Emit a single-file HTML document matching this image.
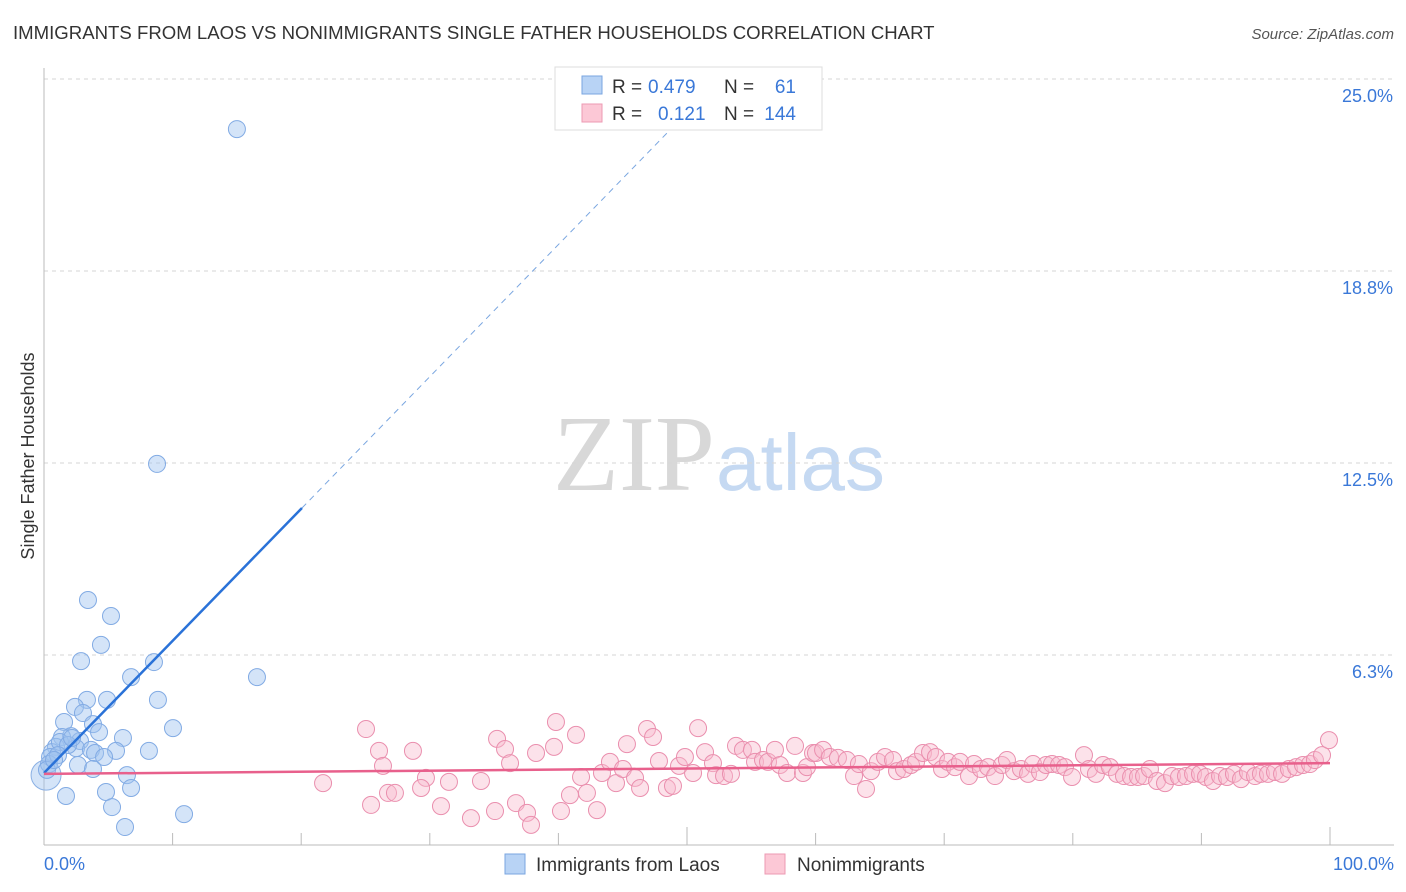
<!DOCTYPE html>
<html><head><meta charset="utf-8"><style>
body{margin:0;background:#fff;font-family:"Liberation Sans",sans-serif}
#wrap{position:relative;width:1406px;height:892px;overflow:hidden}
</style></head><body>
<div id="wrap">
<svg id="svg" width="1406" height="892" xmlns="http://www.w3.org/2000/svg">
<text x="13" y="39" font-size="18.6" fill="#333">IMMIGRANTS FROM LAOS VS NONIMMIGRANTS SINGLE FATHER HOUSEHOLDS CORRELATION CHART</text>
<text x="1394" y="39" font-size="15" fill="#555" font-style="italic" text-anchor="end">Source: ZipAtlas.com</text>
<text x="715" y="490" font-size="108" fill="#d8d8d8" text-anchor="end" font-family="Liberation Serif,serif">ZIP</text>
<text x="716" y="490" font-size="80" fill="#c5d9f2">atlas</text>
<g id="grid"></g>
<g id="axes"></g>
<g id="marks"></g>
<text transform="translate(34,456) rotate(-90)" font-size="18" fill="#333" text-anchor="middle">Single Father Households</text>
<g font-size="19">
<rect x="555" y="67" width="267" height="63" fill="#fff" stroke="#ddd"/>
<rect x="582" y="76" width="20" height="18" fill="#b8d3f5" stroke="#7aa6e0"/>
<text x="612" y="93" fill="#333">R =</text>
<text x="648" y="93" fill="#3a78d8">0.479</text>
<text x="724" y="93" fill="#333">N =</text>
<text x="796" y="93" fill="#3a78d8" text-anchor="end">61</text>
<rect x="582" y="104" width="20" height="18" fill="#fcc8d6" stroke="#ec9ab3"/>
<text x="612" y="120" fill="#333">R =</text>
<text x="658" y="120" fill="#3a78d8">0.121</text>
<text x="724" y="120" fill="#333">N =</text>
<text x="796" y="120" fill="#3a78d8" text-anchor="end">144</text>
</g>
<g>
<rect x="505" y="854" width="20" height="20" fill="#b8d3f5" stroke="#7aa6e0"/>
<text x="536" y="871" font-size="19" fill="#333">Immigrants from Laos</text>
<rect x="765" y="854" width="20" height="20" fill="#fcc8d6" stroke="#ec9ab3"/>
<text x="797" y="871" font-size="19" fill="#333">Nonimmigrants</text>
</g>
</svg>
</div>
<script>
const yTicks=[6.25,12.5,18.75,25];
const yTickLabels=["6.3%","12.5%","18.8%","25.0%"];
const xTicks=[0,10,20,30,40,50,60,70,80,90,100];
const xEndLabels=["0.0%","100.0%"];
const laosX=[15.0,8.79,3.42,5.21,4.43,2.88,8.55,6.77,16.56,8.86,4.90,3.34,2.41,3.03,10.03,1.56,3.81,4.28,6.14,2.10,1.40,2.80,2.49,8.16,5.60,3.65,3.97,4.67,0.93,0.62,0.47,0.39,0.23,2.64,3.81,6.45,6.77,1.71,4.82,5.29,10.89,6.30,1.24,1.87,2.18,1.09,0.78];
const laosY=[23.37,12.47,8.04,7.52,6.58,6.05,6.02,5.53,5.53,4.79,4.79,4.79,4.56,4.36,3.87,4.07,4.00,3.74,3.55,3.61,3.58,3.45,3.22,3.13,3.13,3.16,3.06,2.93,3.26,3.09,2.93,2.70,2.51,2.67,2.54,2.34,1.92,1.66,1.79,1.30,1.07,0.65,3.42,3.32,3.55,2.99,2.83];
const nonX=[21.70,25.04,26.05,26.36,25.43,26.75,27.29,28.69,29.70,29.32,30.87,31.49,33.20,33.98,35.07,35.23,35.85,36.24,36.70,37.56,37.87,38.26,39.66,39.81,40.20,40.90,41.37,41.76,42.22,43.00,43.39,44.01,44.48,45.02,45.33,45.96,46.35,46.89,47.36,47.82,48.44,48.91,49.38,49.84,50.47,50.86,51.40,52.02,52.26,52.88,53.42,53.81,54.35,55.05,55.29,55.91,56.30,56.84,57.23,57.78,58.40,59.02,59.33,59.80,60.03,60.58,61.12,61.74,62.44,62.99,63.37,63.92,64.31,64.85,65.40,66.02,66.33,66.87,67.42,67.81,68.35,68.90,69.36,69.83,70.30,70.84,71.23,71.93,72.32,72.86,73.41,73.95,74.49,74.88,75.43,75.97,76.52,76.91,77.45,77.92,78.38,78.93,79.39,79.94,80.87,81.26,81.80,82.35,82.89,83.44,83.98,84.53,85.07,85.54,86.00,86.55,87.17,87.71,88.26,88.80,89.35,89.89,90.36,90.90,91.45,91.99,92.53,93.08,93.62,94.17,94.63,95.18,95.72,96.27,96.81,97.36,97.90,98.44,98.83,99.38,99.92];
const nonY=[2.08,3.84,3.13,2.64,1.37,1.76,1.76,3.13,2.25,1.92,1.33,2.12,0.94,2.15,1.17,3.52,3.19,2.73,1.43,1.11,0.72,3.06,3.26,4.07,1.17,1.69,3.65,2.28,1.76,1.20,2.41,2.77,2.08,2.54,3.35,2.25,1.92,3.84,3.58,2.80,1.92,1.99,2.64,2.93,2.41,3.87,3.09,2.73,2.34,2.31,2.38,3.29,3.16,3.16,2.77,2.83,2.77,3.16,2.67,2.41,3.29,2.41,2.60,3.06,3.06,3.16,2.93,2.90,2.83,2.31,2.70,1.89,2.47,2.77,2.93,2.83,2.47,2.54,2.67,2.77,3.06,3.09,2.93,2.54,2.77,2.60,2.77,2.31,2.70,2.54,2.60,2.31,2.67,2.83,2.47,2.54,2.38,2.70,2.44,2.67,2.70,2.67,2.60,2.28,2.99,2.54,2.38,2.67,2.60,2.38,2.31,2.28,2.28,2.31,2.54,2.15,2.08,2.31,2.28,2.31,2.38,2.38,2.28,2.15,2.31,2.28,2.38,2.21,2.44,2.31,2.38,2.38,2.44,2.38,2.54,2.60,2.67,2.70,2.83,2.99,3.48];
const laosTrend=[2.41,0.43];
const nonTrend=[2.38,2.73];
const NS="http://www.w3.org/2000/svg";
const X=v=>44+v*12.86, Y=v=>847-v*30.72;
function mk(tag,attrs,parent){const e=document.createElementNS(NS,tag);for(const k in attrs)e.setAttribute(k,attrs[k]);parent.appendChild(e);return e;}
const grid=document.getElementById('grid'),axes=document.getElementById('axes'),marks=document.getElementById('marks');
yTicks.forEach((t,i)=>{
 const l=mk('line',{x1:44,x2:1394,y1:Y(t),y2:Y(t),stroke:'#d6d6d6','stroke-dasharray':'4,4'},grid);
 
 
 const tx=mk('text',{x:1393,y:Y(t)+23,'font-size':18,fill:'#3a78d8','text-anchor':'end'},axes);
 tx.textContent=yTickLabels[i];
 
 
});
const al=mk('line',{x1:44,x2:44,y1:68,y2:845,stroke:'#bbb'},axes);


const bl=mk('line',{x1:44,x2:1394,y1:845,y2:845,stroke:'#bbb'},axes);


xTicks.forEach(t=>{
 const l=mk('line',{x1:X(t),x2:X(t),y1:(t%50===0&&t>0)?827:833,y2:845,stroke:'#bbb'},axes);
 
 
});
[[0,'start',44],[100,'end',1394]].forEach((d,i)=>{
 const tx=mk('text',{x:d[2],y:870,'font-size':18,fill:'#3a78d8','text-anchor':d[1]},axes);
 tx.textContent=xEndLabels[i];
 
 
});
const big=mk('circle',{cx:X(0.16),cy:Y(2.34),r:15,fill:'rgba(160,196,240,0.45)',stroke:'#8ab0e4','stroke-width':1},marks);


laosX.forEach((x,i)=>{
 const c=mk('circle',{cx:X(x),cy:Y(laosY[i]),r:8.5,fill:'rgba(160,196,240,0.45)',stroke:'#82abe4','stroke-width':1},marks);
 
 
});
nonX.forEach((x,i)=>{
 const c=mk('circle',{cx:X(x),cy:Y(nonY[i]),r:8.5,fill:'rgba(248,185,205,0.42)',stroke:'#ea8fae','stroke-width':1},marks);
 
 
});
const bt=mk('line',{x1:X(0),y1:Y(laosTrend[0]),x2:X(20.06),y2:Y(laosTrend[0]+laosTrend[1]*20.06),stroke:'#2a72d8','stroke-width':2.5},marks);


const bd=mk('line',{x1:X(20.06),y1:Y(laosTrend[0]+laosTrend[1]*20.06),x2:X(49),y2:Y(laosTrend[0]+laosTrend[1]*49),stroke:'#7aa6e0','stroke-width':1,'stroke-dasharray':'6,5'},marks);


const pt=mk('line',{x1:X(0),y1:Y(nonTrend[0]),x2:X(100),y2:Y(nonTrend[1]),stroke:'#e8608c','stroke-width':2.5},marks);


</script>
</body></html>
